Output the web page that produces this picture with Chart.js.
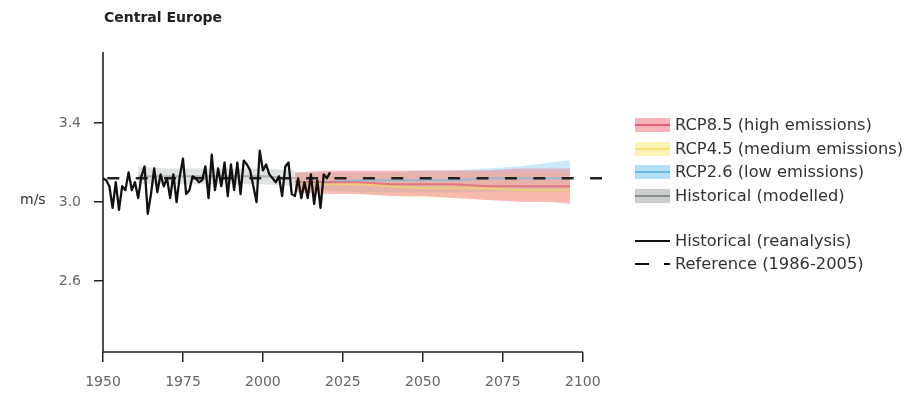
<!DOCTYPE html>
<html><head><meta charset="utf-8">
<script src="https://cdn.jsdelivr.net/npm/chart.js@4.4.1/dist/chart.umd.min.js"></script>
<style>
html,body{margin:0;padding:0;background:#fff;}
#wrap{position:relative;width:908px;height:394px;overflow:hidden;}
canvas{position:absolute;left:0;top:0;}
.t{position:absolute;font-family:"DejaVu Sans";white-space:nowrap;}
#title{left:104px;top:9px;font-size:14px;font-weight:bold;color:#222;}
#unit{left:20px;top:191px;font-size:14px;color:#333;}
.leg{position:absolute;left:635px;height:20px;font-family:"DejaVu Sans";font-size:16.3px;color:#333;white-space:nowrap;}
.sw{position:absolute;left:0;top:3px;width:35px;height:14px;}
.sw i{position:absolute;left:0;right:0;top:6px;height:2px;}
.lab{position:absolute;left:40px;top:0;line-height:20px;}
</style>
</head><body>
<div id="wrap">
<canvas id="c" width="908" height="394"></canvas>
<div id="title" class="t">Central Europe</div>
<div id="unit" class="t">m/s</div>
<div class="leg" style="top:115px"><div class="sw" style="background:rgba(240,130,140,0.6)"><i style="background:rgba(225,80,100,0.8)"></i></div><div class="lab">RCP8.5 (high emissions)</div></div>
<div class="leg" style="top:139px"><div class="sw" style="background:rgba(253,236,150,0.7)"><i style="background:rgba(248,222,110,0.9)"></i></div><div class="lab">RCP4.5 (medium emissions)</div></div>
<div class="leg" style="top:162px"><div class="sw" style="background:rgba(150,210,242,0.7)"><i style="background:rgba(100,185,235,0.9)"></i></div><div class="lab">RCP2.6 (low emissions)</div></div>
<div class="leg" style="top:186px"><div class="sw" style="background:rgba(180,186,183,0.7)"><i style="background:rgba(130,138,134,0.9)"></i></div><div class="lab">Historical (modelled)</div></div>
<div class="leg" style="top:231px"><div class="sw" style="background:none"><i style="background:#111"></i></div><div class="lab">Historical (reanalysis)</div></div>
<div class="leg" style="top:254px"><div class="sw" style="background:none"><i style="background:#111;right:21px"></i><i style="background:#111;left:29px;right:0px"></i></div><div class="lab">Reference (1986-2005)</div></div>
</div>
<script>
// ---- data ----
const reanalysisYears = [1950,1951,1952,1953,1954,1955,1956,1957,1958,1959,1960,1961,1962,1963,1964,1965,1966,1967,1968,1969,1970,1971,1972,1973,1974,1975,1976,1977,1978,1979,1980,1981,1982,1983,1984,1985,1986,1987,1988,1989,1990,1991,1992,1993,1994,1995,1996,1997,1998,1999,2000,2001,2002,2003,2004,2005,2006,2007,2008,2009,2010,2011,2012,2013,2014,2015,2016,2017,2018,2019,2020,2021];
const reanalysis = [3.12,3.11,3.08,2.97,3.10,2.96,3.08,3.06,3.15,3.06,3.10,3.02,3.13,3.18,2.94,3.04,3.17,3.05,3.14,3.08,3.12,3.02,3.14,3.00,3.13,3.22,3.04,3.06,3.13,3.12,3.10,3.11,3.18,3.02,3.24,3.06,3.17,3.08,3.20,3.03,3.19,3.06,3.20,3.04,3.21,3.19,3.16,3.08,3.00,3.26,3.16,3.19,3.14,3.12,3.10,3.13,3.03,3.18,3.20,3.04,3.03,3.12,3.02,3.10,3.02,3.14,2.99,3.11,2.97,3.14,3.12,3.15];

const refYears = [1950,2106];
const refValue = 3.12;

const histModelYears = [1961,1970,1980,1990,2000,2010];
const histModelUpper = [3.18,3.17,3.17,3.17,3.17,3.16];
const histModelLower = [3.09,3.09,3.09,3.09,3.09,3.08];
const histModelMedian = [3.13,3.13,3.13,3.13,3.13,3.12];

const projYears = [2010,2020,2030,2040,2050,2060,2070,2080,2090,2096];
const rcp85Upper  = [3.15,3.16,3.16,3.16,3.16,3.16,3.16,3.17,3.17,3.17];
const rcp85Lower  = [3.05,3.04,3.04,3.03,3.03,3.02,3.01,3.00,3.00,2.99];
const rcp85Median = [3.10,3.10,3.10,3.09,3.09,3.09,3.08,3.08,3.08,3.08];
const rcp45Upper  = [3.15,3.15,3.15,3.15,3.15,3.15,3.15,3.15,3.15,3.15];
const rcp45Lower  = [3.05,3.05,3.04,3.03,3.02,3.02,3.01,3.01,3.00,3.00];
const rcp45Median = [3.10,3.09,3.09,3.08,3.07,3.07,3.07,3.06,3.06,3.06];
const rcp26Upper  = [3.15,3.15,3.15,3.15,3.16,3.16,3.17,3.18,3.20,3.21];
const rcp26Lower  = [3.06,3.06,3.05,3.05,3.05,3.05,3.05,3.05,3.05,3.05];
const rcp26Median = [3.10,3.10,3.11,3.11,3.11,3.11,3.12,3.12,3.12,3.12];

const xTicks = [1950,1975,2000,2025,2050,2075,2100];
const yTicks = [2.6,3.0,3.4];

// ---- helpers ----
const pts = (xs, ys) => xs.map((x, i) => ({x: x, y: ys[i]}));
const base = {pointRadius: 0, pointHoverRadius: 0, tension: 0, borderJoinStyle: 'round'};
function band(xs, up, lo, color, order) {
  return [
    Object.assign({}, base, {data: pts(xs, up), borderWidth: 0, borderColor: 'rgba(0,0,0,0)', backgroundColor: color, fill: '+1', order: order}),
    Object.assign({}, base, {data: pts(xs, lo), borderWidth: 0, borderColor: 'rgba(0,0,0,0)', fill: false, order: order})
  ];
}
function line(xs, ys, color, w, order, extra) {
  return Object.assign({}, base, {data: pts(xs, ys), borderColor: color, borderWidth: w, fill: false, order: order}, extra || {});
}
const isMajorY = v => yTicks.some(t => Math.abs(t - v) < 1e-6);

const datasets = [
  line(reanalysisYears, reanalysis, '#111', 2.3, 0),
  line(refYears, refYears.map(() => refValue), '#222', 2.6, 1, {borderDash: [12, 16.4], borderDashOffset: 24.1, borderCapStyle: 'butt'}),
  line(projYears, rcp85Median, 'rgba(225,80,100,0.6)', 2, 2),
  line(projYears, rcp45Median, 'rgba(245,215,100,0.7)', 2, 3),
  line(projYears, rcp26Median, 'rgba(100,185,235,0.6)', 2, 4),
  line(histModelYears, histModelMedian, 'rgba(140,148,144,0.6)', 2, 5),
  ...band(projYears, rcp85Upper, rcp85Lower, 'rgba(240,115,130,0.45)', 6),
  ...band(projYears, rcp45Upper, rcp45Lower, 'rgba(253,230,140,0.4)', 7),
  ...band(projYears, rcp26Upper, rcp26Lower, 'rgba(150,210,242,0.5)', 8),
  ...band(histModelYears, histModelUpper, histModelLower, 'rgba(175,185,180,0.4)', 9)
];

const spines = {
  id: 'spines',
  afterDraw(chart) {
    const ctx = chart.ctx, a = chart.chartArea, xs = chart.scales.x;
    ctx.save();
    ctx.strokeStyle = '#222';
    ctx.lineWidth = 1.6;
    ctx.beginPath();
    ctx.moveTo(a.left, a.top);
    ctx.lineTo(a.left, a.bottom);
    ctx.moveTo(xs.getPixelForValue(xTicks[0]), a.bottom);
    ctx.lineTo(xs.getPixelForValue(xTicks[xTicks.length - 1]), a.bottom);
    ctx.stroke();
    ctx.restore();
  }
};

new Chart(document.getElementById('c'), {
  type: 'line',
  data: {datasets: datasets},
  options: {
    responsive: false,
    animation: false,
    devicePixelRatio: 1,
    layout: {padding: {top: 52, right: 306, left: 0, bottom: 0}},
    plugins: {legend: {display: false}, tooltip: {enabled: false}, title: {display: false}},
    scales: {
      x: {
        type: 'linear', min: 1950, max: 2106,
        afterBuildTicks: s => { s.ticks = xTicks.map(v => ({value: v})); },
        afterFit: s => { s.height = 42; },
        grid: {display: true, drawOnChartArea: false, drawTicks: true, tickLength: 10, color: '#222', lineWidth: 1.5},
        border: {display: false},
        ticks: {font: {family: 'DejaVu Sans', size: 14}, color: '#666', padding: 12, maxRotation: 0, autoSkip: false, callback: v => String(v)}
      },
      y: {
        type: 'linear', min: 2.24, max: 3.76,
        afterFit: s => { s.width = 103; },
        grid: {display: true, drawOnChartArea: false, drawTicks: true, tickLength: 9, lineWidth: 1.5,
               color: c => (c.tick && isMajorY(c.tick.value)) ? '#222' : 'rgba(0,0,0,0)'},
        border: {display: false},
        ticks: {stepSize: 0.2, includeBounds: false, autoSkip: false, font: {family: 'DejaVu Sans', size: 14}, color: '#666', padding: 13,
                callback: v => isMajorY(v) ? Number(v).toFixed(1) : ''}
      }
    }
  },
  plugins: [spines]
});
</script>
</body></html>
